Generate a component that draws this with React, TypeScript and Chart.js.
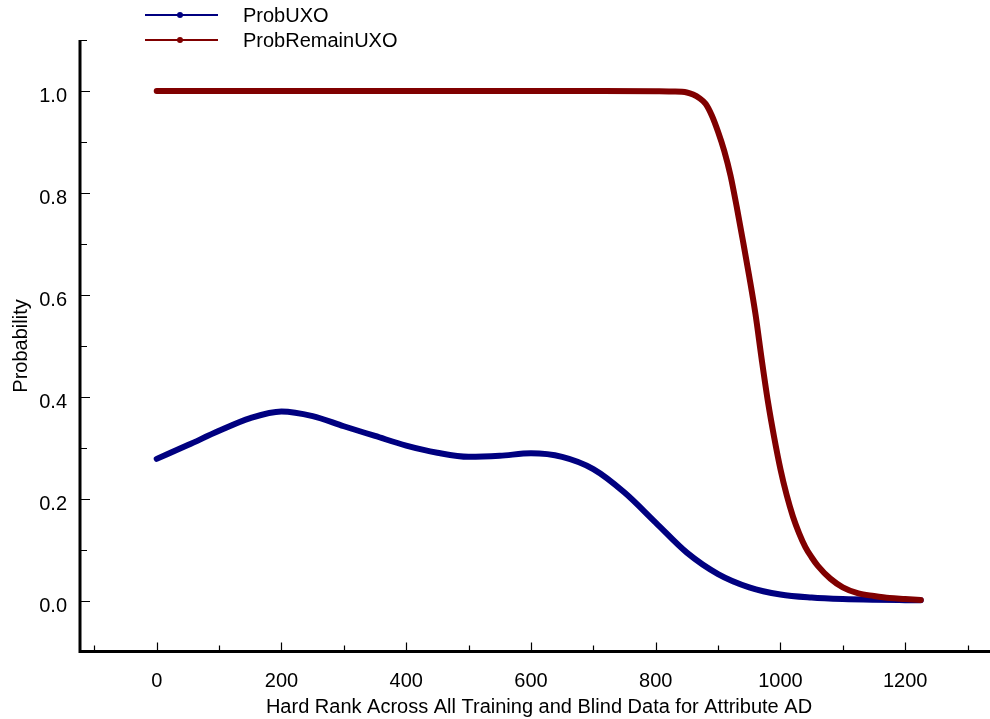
import React, { useEffect, useRef } from "react";
import { Chart, registerables } from "chart.js";

Chart.register(...registerables);

const seriesNames = ["ProbUXO", "ProbRemainUXO"];
const blueRank = [0, 50, 100, 150, 200, 250, 300, 350, 400, 450, 500, 550, 600, 650, 700, 750, 800, 850, 900, 950, 1000, 1050, 1100, 1150, 1200, 1225];
const blueProb = [0.278, 0.305, 0.333, 0.358, 0.371, 0.362, 0.342, 0.323, 0.304, 0.29, 0.282, 0.284, 0.289, 0.282, 0.258, 0.212, 0.153, 0.094, 0.052, 0.026, 0.012, 0.006, 0.003, 0.0015, 0.0007, 0.0004];
const redRank = [0, 100, 200, 300, 400, 500, 600, 700, 800, 825, 850, 860, 870, 880, 890, 900, 910, 920, 930, 940, 950, 960, 970, 980, 990, 1000, 1010, 1020, 1030, 1040, 1050, 1060, 1080, 1100, 1125, 1150, 1175, 1200, 1225];
const redProb = [1, 1, 1, 1, 1, 1, 1, 1, 0.9995, 0.999, 0.997, 0.993, 0.986, 0.975, 0.952, 0.92, 0.882, 0.834, 0.772, 0.705, 0.636, 0.562, 0.473, 0.39, 0.32, 0.258, 0.207, 0.165, 0.132, 0.105, 0.085, 0.068, 0.043, 0.026, 0.014, 0.009, 0.005, 0.003, 0.001];

const xMajorTicks = [0, 200, 400, 600, 800, 1000, 1200];
const xMinorTicks = [-100, 100, 300, 500, 700, 900, 1100, 1300];
const yMajorTicks = [0, 0.2, 0.4, 0.6, 0.8, 1.0];
const yMajorLabels = ["0.0", "0.2", "0.4", "0.6", "0.8", "1.0"];
const yMinorTicks = [-0.1, 0.1, 0.3, 0.5, 0.7, 0.9, 1.1];
const xTitle = "Hard Rank Across All Training and Blind Data for Attribute AD";
const yTitle = "Probability";

const BLUE = "#000080";
const RED = "#800000";
const FONT = '20px "Liberation Sans", Arial, sans-serif';

const axesPlugin = {
  id: "customAxes",
  afterDraw(chart: any) {
    const ctx = chart.ctx;
    const xs = chart.scales.x;
    const ys = chart.scales.y;
    const area = chart.chartArea;
    ctx.save();
    ctx.strokeStyle = "#000";
    ctx.fillStyle = "#000";
    ctx.lineWidth = 3;
    ctx.beginPath();
    ctx.moveTo(area.left, area.top);
    ctx.lineTo(area.left, area.bottom);
    ctx.lineTo(area.right, area.bottom);
    ctx.stroke();
    ctx.lineWidth = 1.2;
    ctx.beginPath();
    yMajorTicks.forEach((v) => {
      const y = Math.round(ys.getPixelForValue(v)) + 0.5;
      ctx.moveTo(area.left, y);
      ctx.lineTo(area.left + 10, y);
    });
    yMinorTicks.forEach((v) => {
      const y = Math.round(ys.getPixelForValue(v)) + 0.5;
      ctx.moveTo(area.left, y);
      ctx.lineTo(area.left + 7, y);
    });
    xMajorTicks.forEach((v) => {
      const x = Math.round(xs.getPixelForValue(v)) + 0.5;
      ctx.moveTo(x, area.bottom);
      ctx.lineTo(x, area.bottom - 9);
    });
    xMinorTicks.forEach((v) => {
      const x = Math.round(xs.getPixelForValue(v)) + 0.5;
      ctx.moveTo(x, area.bottom);
      ctx.lineTo(x, area.bottom - 6);
    });
    ctx.stroke();
    ctx.font = FONT;
    ctx.textBaseline = "alphabetic";
    ctx.textAlign = "right";
    yMajorTicks.forEach((v, i) => {
      const y = ys.getPixelForValue(v);
      ctx.fillText(yMajorLabels[i], area.left - 13, y + 11);
    });
    ctx.textAlign = "center";
    xMajorTicks.forEach((v) => {
      const x = xs.getPixelForValue(v);
      ctx.fillText(String(v), x, area.bottom + 35);
    });
    ctx.fillText(xTitle, 539, 713);
    ctx.save();
    ctx.translate(27, 346);
    ctx.rotate(-Math.PI / 2);
    ctx.fillText(yTitle, 0, 0);
    ctx.restore();
    const colors = [BLUE, RED];
    const legendY = [15, 40];
    ctx.textAlign = "left";
    seriesNames.forEach((name, i) => {
      const y = legendY[i];
      ctx.strokeStyle = colors[i];
      ctx.fillStyle = colors[i];
      ctx.lineWidth = 2;
      ctx.beginPath();
      ctx.moveTo(145, y);
      ctx.lineTo(218, y);
      ctx.stroke();
      ctx.beginPath();
      ctx.arc(180, y, 3, 0, Math.PI * 2);
      ctx.fill();
      ctx.fillStyle = "#000";
      ctx.fillText(name, 243, y + 7);
    });
    ctx.restore();
  },
};

export default function App() {
  const ref = useRef<HTMLCanvasElement | null>(null);
  useEffect(() => {
    document.body.style.margin = "0";
    const canvas = ref.current;
    if (!canvas) return;
    const chart = new Chart(canvas, {
      type: "line",
      data: {
        datasets: [
          {
            label: seriesNames[0],
            data: blueRank.map((x, i) => ({ x, y: blueProb[i] })),
            borderColor: BLUE,
            backgroundColor: BLUE,
            borderWidth: 6,
            pointRadius: 0,
            cubicInterpolationMode: "monotone",
            borderCapStyle: "round",
            borderJoinStyle: "round",
            order: 2,
          },
          {
            label: seriesNames[1],
            data: redRank.map((x, i) => ({ x, y: redProb[i] })),
            borderColor: RED,
            backgroundColor: RED,
            borderWidth: 6,
            pointRadius: 0,
            cubicInterpolationMode: "monotone",
            borderCapStyle: "round",
            borderJoinStyle: "round",
            order: 1,
          },
        ],
      },
      options: {
        responsive: false,
        animation: false,
        layout: { padding: { left: 80, right: 0, top: 40, bottom: 67.5 } },
        scales: {
          x: { type: "linear", min: -123, max: 1336, display: false },
          y: { type: "linear", min: -0.1, max: 1.1, display: false },
        },
        plugins: { legend: { display: false }, tooltip: { enabled: false } },
        clip: false,
      } as any,
      plugins: [axesPlugin],
    });
    return () => chart.destroy();
  }, []);
  return (
    <div style={{ width: 990, height: 719, background: "#fff" }}>
      <canvas ref={ref} width={990} height={719} />
    </div>
  );
}
